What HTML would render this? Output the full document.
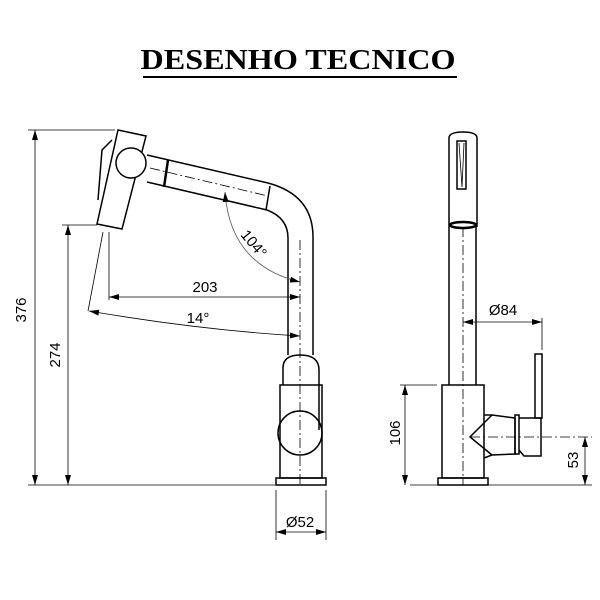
<!DOCTYPE html>
<html><head><style>body{margin:0;background:#fff}svg{display:block}</style></head><body>
<svg width="600" height="600" viewBox="0 0 600 600" xmlns="http://www.w3.org/2000/svg">
<defs>
<marker id="a" viewBox="0 0 10 6" refX="10" refY="3" markerWidth="10" markerHeight="6" markerUnits="userSpaceOnUse" orient="auto-start-reverse"><path d="M0,0L10,3L0,6z" fill="#000"/></marker>
</defs>
<text x="298" y="69" text-anchor="middle" font-family="Liberation Serif, serif" font-weight="bold" font-size="29" textLength="315" lengthAdjust="spacingAndGlyphs">DESENHO TECNICO</text>
<line x1="143" y1="77" x2="457" y2="77" stroke="#000" stroke-width="2"/>
<g fill="none" stroke="#000" stroke-width="1.5">
<path d="M118,130 L146,136 L122,229 L97,224 Z"/>
<path d="M112,140 L102,150 L98,200"/>
<circle cx="131" cy="163" r="15" fill="#fff"/>
<path d="M147,155 L268,183 Q313,195 313,237 L313,355"/>
<path d="M147,182 L267,210 Q288,218 288,238 L288,355"/>
<line x1="168" y1="160" x2="164" y2="187" stroke-width="2.5"/>
<line x1="270" y1="186" x2="266" y2="210"/>
<path d="M283,385 L283,368 Q283,355 300,355 Q319,355 319,370 L319,430"/>
<circle cx="300" cy="433" r="22"/>
<rect x="280" y="385" width="42" height="93"/>
<rect x="276" y="478" width="50" height="7"/>
</g>
<g fill="none" stroke="#000" stroke-width="0.8">
<line x1="300" y1="240" x2="300" y2="485" stroke-dasharray="10,3,2,3"/>
<line x1="150" y1="168" x2="268" y2="196" stroke-dasharray="10,3,2,3"/>
<line x1="28" y1="130" x2="115" y2="130"/>
<line x1="28" y1="485" x2="275" y2="485"/>
<line x1="35" y1="130" x2="35" y2="485" marker-start="url(#a)" marker-end="url(#a)"/>
<line x1="62" y1="225" x2="97" y2="225"/>
<line x1="68" y1="225" x2="68" y2="485" marker-start="url(#a)" marker-end="url(#a)"/>
<line x1="109" y1="232" x2="109" y2="300"/>
<line x1="103" y1="232" x2="88" y2="311"/>
<line x1="109" y1="297" x2="300" y2="297" marker-start="url(#a)" marker-end="url(#a)"/>
<path d="M89,311 Q200,330 300,336" marker-start="url(#a)" marker-end="url(#a)"/>
<path d="M225,192 Q230,265 300,282" stroke="#555" marker-start="url(#a)" marker-end="url(#a)"/>
<line x1="276" y1="490" x2="276" y2="540"/>
<line x1="326" y1="490" x2="326" y2="540"/>
<line x1="276" y1="532" x2="326" y2="532" marker-start="url(#a)" marker-end="url(#a)"/>
<line x1="463" y1="227" x2="463" y2="485" stroke-dasharray="10,3,2,3"/>
<line x1="463" y1="322" x2="542" y2="322" marker-start="url(#a)" marker-end="url(#a)"/>
<line x1="542" y1="318" x2="542" y2="350"/>
<line x1="400" y1="385" x2="437" y2="385"/>
<line x1="405" y1="385" x2="405" y2="485" marker-start="url(#a)" marker-end="url(#a)"/>
<line x1="410" y1="485" x2="592" y2="485"/>
<line x1="470" y1="437" x2="592" y2="437" stroke-dasharray="10,3,2,3"/>
<line x1="585" y1="437" x2="585" y2="485" marker-start="url(#a)" marker-end="url(#a)"/>
</g>
<g fill="none" stroke="#000" stroke-width="1.5">
<path d="M449,227 L449,138 Q449,132 463,132 Q477,132 477,138 L477,227"/>
<rect x="457" y="141" width="9" height="48"/>
<path d="M459,143 L462,187 M464,143 L462,187" stroke-width="0.8"/>
<ellipse cx="463" cy="225" rx="13" ry="3" stroke-width="2.5"/>
<line x1="449" y1="227" x2="449" y2="385"/>
<line x1="476" y1="227" x2="476" y2="385"/>
<rect x="442" y="385" width="42" height="93"/>
<rect x="438" y="478" width="50" height="7"/>
<path d="M484,415 L492,415 L515,418 L515,454 L492,455 L484,458"/>
<path d="M492,415 L470,437 L492,455" />
<rect x="515" y="415" width="4" height="39"/>
<path d="M519,418 L541,418 L541,456 L524,456 L519,450"/>
<rect x="535" y="354" width="7" height="64"/>
</g>
<g font-family="Liberation Sans, sans-serif" font-size="15" fill="#000">
<text x="205" y="292" text-anchor="middle">203</text>
<text x="198" y="323" text-anchor="middle">14°</text>
<text x="250" y="247" text-anchor="middle" transform="rotate(50 250 247)">104°</text>
<text x="300" y="527" text-anchor="middle">Ø52</text>
<text x="503" y="315" text-anchor="middle">Ø84</text>
<text transform="translate(26 310) rotate(-90)" text-anchor="middle">376</text>
<text transform="translate(60 355) rotate(-90)" text-anchor="middle">274</text>
<text transform="translate(400 433) rotate(-90)" text-anchor="middle">106</text>
<text transform="translate(578 460) rotate(-90)" text-anchor="middle">53</text>
</g>
</svg>
</body></html>
